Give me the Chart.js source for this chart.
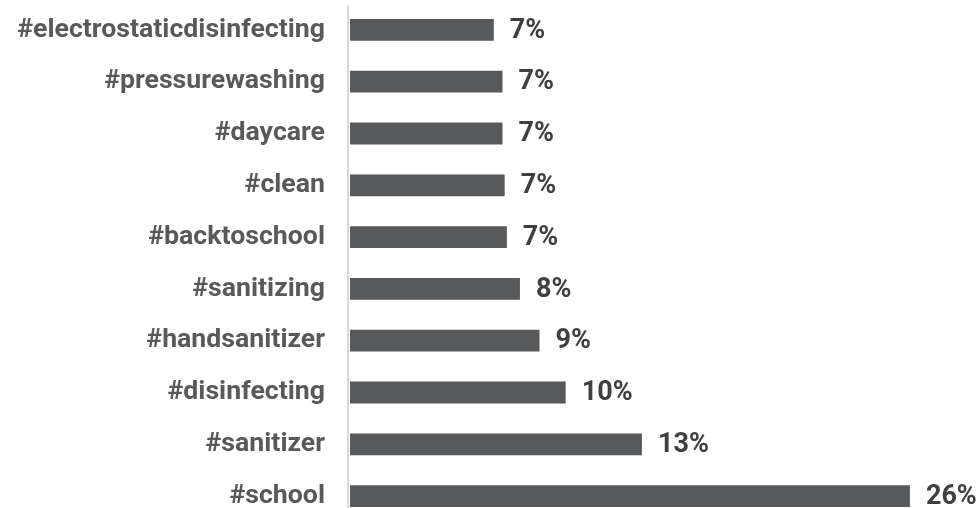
<!DOCTYPE html>
<html>
<head>
<meta charset="utf-8">
<script src="https://cdn.jsdelivr.net/npm/chart.js@4"></script>
<style>
  html, body { margin: 0; padding: 0; background: #fff; overflow: hidden; }
  #chart { display: block; }
</style>
</head>
<body>
<canvas id="chart" width="977" height="526"></canvas>
<script>
// hashtags, top to bottom
const hashtags = [
  '#electrostaticdisinfecting', '#pressurewashing', '#daycare', '#clean', '#backtoschool',
  '#sanitizing', '#handsanitizer', '#disinfecting', '#sanitizer', '#school',
];
// share of posts (%)
const shares = [6.6, 7.0, 7.0, 7.1, 7.2, 7.8, 8.7, 9.9, 13.4, 25.7];

// value labels at the end of each bar
const valueLabels = {
  id: 'valueLabels',
  afterDatasetsDraw(chart) {
    const ctx = chart.ctx;
    const meta = chart.getDatasetMeta(0);
    ctx.save();
    ctx.font = 'bold 27px Roboto';
    ctx.fillStyle = '#404040';
    ctx.textAlign = 'left';
    ctx.textBaseline = 'middle';
    meta.data.forEach((bar, i) => {
      ctx.fillText(Math.round(shares[i]) + '%', bar.x + 16, bar.y + 1);
    });
    ctx.restore();
  },
};

// thin grey axis line left of the bars
const axisLine = {
  id: 'axisLine',
  beforeDatasetsDraw(chart) {
    const { ctx, chartArea } = chart;
    ctx.save();
    ctx.strokeStyle = '#d9d9d9';
    ctx.lineWidth = 2;
    ctx.beginPath();
    ctx.moveTo(chartArea.left - 2, 5);
    ctx.lineTo(chartArea.left - 2, chart.height);
    ctx.stroke();
    ctx.restore();
  },
};

new Chart(document.getElementById('chart'), {
  type: 'bar',
  data: {
    labels: hashtags,
    datasets: [{
      data: shares,
      backgroundColor: '#58595b',
      borderWidth: 0,
      barPercentage: 1,
      categoryPercentage: 0.42,
    }],
  },
  options: {
    indexAxis: 'y',
    responsive: false,
    animation: false,
    layout: { padding: { top: 4, bottom: 4, right: 17, left: 0 } },
    plugins: {
      legend: { display: false },
      tooltip: { enabled: false },
    },
    scales: {
      x: {
        display: false,
        min: 0,
        max: 28,
      },
      y: {
        grid: { display: false },
        border: { display: false },
        afterFit(scale) {
          scale.width = 350;
          scale.paddingTop = 0;
          scale.paddingBottom = 0;
        },
        ticks: {
          padding: 17,
          color: '#595959',
          font: { family: 'Roboto', weight: 'bold', size: 26.7 },
        },
      },
    },
  },
  plugins: [axisLine, valueLabels],
});
</script>
</body>
</html>
